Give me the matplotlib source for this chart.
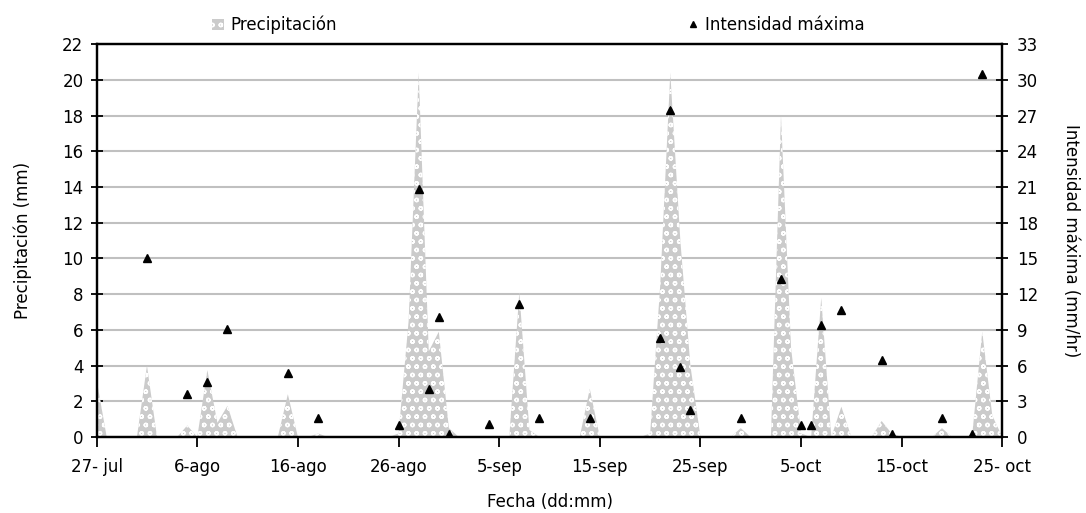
import numpy as np
import matplotlib
matplotlib.use('Agg')
import matplotlib.pyplot as plt
from matplotlib.patches import Patch
from matplotlib.lines import Line2D

plt.rcParams['font.family'] = ['DejaVu Sans']
plt.rcParams['hatch.linewidth'] = 1.0
plt.rcParams['hatch.color'] = 'white'

# daily precipitation, 27-jul (day 0) to 25-oct (day 90)
precip_mm = [3.2, 0, 0, 0, 0, 4.0, 0, 0, 0, 0.65,
             0, 3.75, 0.8, 1.75, 0, 0, 0, 0, 0, 2.4,
             0, 0, 0.2, 0, 0, 0, 0, 0, 0, 0,
             0.2, 6.5, 20.4, 4.8, 5.9, 0.5, 0, 0, 0, 0,
             0, 0, 8.1, 0.4, 0, 0, 0, 0, 0, 2.7,
             0, 0, 0, 0, 0, 0.2, 8.5, 20.4, 11.0, 4.0,
             0, 0, 0, 0, 0.5, 0, 0, 0, 18.0, 5.0,
             0.2, 0, 7.8, 0, 1.7, 0, 0, 0, 0.9, 0.2,
             0, 0, 0, 0, 0.5, 0, 0, 0.1, 5.9, 1.2,
             0]
precip_day = np.arange(len(precip_mm))

# maximum intensity events (day index, mm/hr)
int_day = [5, 9, 11, 13, 19, 22, 30, 32, 33, 34, 35, 39, 42, 44, 49,
           56, 57, 58, 59, 64, 68, 70, 71, 72, 74, 78, 79, 84, 87, 88]
int_val = [15.0, 3.6, 4.65, 9.05, 5.35, 1.6, 1.05, 20.8, 4.06, 10.06, 0.3, 1.07, 11.2, 1.6, 1.6,
           8.3, 27.5, 5.86, 2.3, 1.6, 13.25, 1.0, 1.0, 9.4, 10.7, 6.5, 0.3, 1.6, 0.3, 30.5]

tick_day = [0, 10, 20, 30, 40, 50, 60, 70, 80, 90]
tick_lbl = ['27- jul', '6-ago', '16-ago', '26-ago', '5-sep', '15-sep', '25-sep', '5-oct', '15-oct', '25- oct']

fill_col = '#cbcbcb'
fs = 12

fig = plt.figure(figsize=(10.86, 5.13), dpi=100)
ax = fig.add_axes([0.089, 0.148, 0.834, 0.766])
ax2 = ax.twinx()

ax.fill_between(precip_day, precip_mm, 0, facecolor=fill_col, edgecolor='white',
                hatch='oo', linewidth=0, zorder=2)
ax2.plot(int_day, int_val, linestyle='none', marker='^', color='black', markersize=5.5, zorder=3)

ax.set_xlim(0, 90)
ax.set_ylim(0, 22)
ax.set_yticks(np.arange(0, 23, 2))
ax2.set_ylim(0, 33)
ax2.set_yticks(np.arange(0, 34, 3))
ax.set_xticks(tick_day)
ax.set_xticklabels(tick_lbl)

ax.grid(axis='y', color='#c0c0c0', linewidth=1.5, zorder=0)
ax.set_axisbelow(True)

for a in (ax, ax2):
    for s in a.spines.values():
        s.set_linewidth(1.6)
        s.set_color('black')
ax.tick_params(axis='y', direction='inout', length=9, width=1.3, labelsize=fs, pad=5)
ax2.tick_params(axis='y', direction='inout', length=9, width=1.3, labelsize=fs, pad=6)
ax.tick_params(axis='x', direction='out', length=7, width=1.3, labelsize=fs, pad=8)

ax.set_ylabel('Precipitación (mm)', fontsize=fs, labelpad=22)
ax2.set_ylabel('Intensidad máxima (mm/hr)', fontsize=fs, rotation=-90, labelpad=30)
ax.set_xlabel('Fecha (dd:mm)', fontsize=fs, labelpad=12)

handles = [Patch(facecolor=fill_col, edgecolor='white', hatch='oo', linewidth=0),
           Line2D([], [], linestyle='none', marker='^', color='black', markersize=5)]
fig.legend(handles, ['Precipitación', 'Intensidad máxima'], ncol=2, loc='center left',
           bbox_to_anchor=(212 / 1086, 1 - 25 / 513), frameon=False, fontsize=fs,
           handlelength=0.7, handleheight=0.7, handletextpad=0.4, columnspacing=21,
           borderpad=0, borderaxespad=0)

fig.savefig('out.png', dpi=100)
